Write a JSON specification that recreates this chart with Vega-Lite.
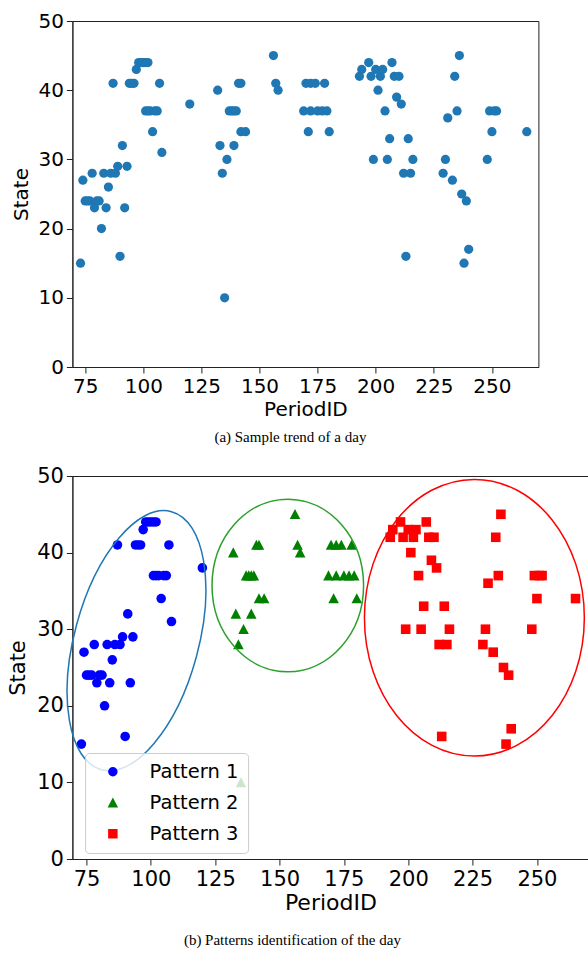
{
  "$schema": "https://vega.github.io/schema/vega-lite/v6.json",
  "autosize": {"type": "none"},
  "padding": {"left": 72.4, "top": 21, "right": 515.6, "bottom": 941},
  "background": "white",
  "datasets": {
    "points": [
      {"period": 73, "state": 15, "pattern": "Pattern 1"},
      {"period": 74, "state": 27, "pattern": "Pattern 1"},
      {"period": 75, "state": 24, "pattern": "Pattern 1"},
      {"period": 76, "state": 24, "pattern": "Pattern 1"},
      {"period": 77, "state": 24, "pattern": "Pattern 1"},
      {"period": 78, "state": 28, "pattern": "Pattern 1"},
      {"period": 79, "state": 23, "pattern": "Pattern 1"},
      {"period": 80, "state": 24, "pattern": "Pattern 1"},
      {"period": 81, "state": 24, "pattern": "Pattern 1"},
      {"period": 82, "state": 20, "pattern": "Pattern 1"},
      {"period": 83, "state": 28, "pattern": "Pattern 1"},
      {"period": 84, "state": 23, "pattern": "Pattern 1"},
      {"period": 85, "state": 26, "pattern": "Pattern 1"},
      {"period": 86, "state": 28, "pattern": "Pattern 1"},
      {"period": 87, "state": 41, "pattern": "Pattern 1"},
      {"period": 88, "state": 28, "pattern": "Pattern 1"},
      {"period": 89, "state": 29, "pattern": "Pattern 1"},
      {"period": 90, "state": 16, "pattern": "Pattern 1"},
      {"period": 91, "state": 32, "pattern": "Pattern 1"},
      {"period": 92, "state": 23, "pattern": "Pattern 1"},
      {"period": 93, "state": 29, "pattern": "Pattern 1"},
      {"period": 94, "state": 41, "pattern": "Pattern 1"},
      {"period": 95, "state": 41, "pattern": "Pattern 1"},
      {"period": 96, "state": 41, "pattern": "Pattern 1"},
      {"period": 97, "state": 43, "pattern": "Pattern 1"},
      {"period": 98, "state": 44, "pattern": "Pattern 1"},
      {"period": 99, "state": 44, "pattern": "Pattern 1"},
      {"period": 100, "state": 44, "pattern": "Pattern 1"},
      {"period": 101, "state": 44, "pattern": "Pattern 1"},
      {"period": 102, "state": 44, "pattern": "Pattern 1"},
      {"period": 101, "state": 37, "pattern": "Pattern 1"},
      {"period": 102, "state": 37, "pattern": "Pattern 1"},
      {"period": 103, "state": 37, "pattern": "Pattern 1"},
      {"period": 105, "state": 37, "pattern": "Pattern 1"},
      {"period": 106, "state": 37, "pattern": "Pattern 1"},
      {"period": 104, "state": 34, "pattern": "Pattern 1"},
      {"period": 107, "state": 41, "pattern": "Pattern 1"},
      {"period": 108, "state": 31, "pattern": "Pattern 1"},
      {"period": 120, "state": 38, "pattern": "Pattern 1"},
      {"period": 132, "state": 40, "pattern": "Pattern 2"},
      {"period": 133, "state": 32, "pattern": "Pattern 2"},
      {"period": 134, "state": 28, "pattern": "Pattern 2"},
      {"period": 135, "state": 10, "pattern": "Pattern 2"},
      {"period": 136, "state": 30, "pattern": "Pattern 2"},
      {"period": 137, "state": 37, "pattern": "Pattern 2"},
      {"period": 138, "state": 37, "pattern": "Pattern 2"},
      {"period": 139, "state": 37, "pattern": "Pattern 2"},
      {"period": 140, "state": 37, "pattern": "Pattern 2"},
      {"period": 139, "state": 32, "pattern": "Pattern 2"},
      {"period": 141, "state": 41, "pattern": "Pattern 2"},
      {"period": 142, "state": 41, "pattern": "Pattern 2"},
      {"period": 142, "state": 34, "pattern": "Pattern 2"},
      {"period": 144, "state": 34, "pattern": "Pattern 2"},
      {"period": 156, "state": 45, "pattern": "Pattern 2"},
      {"period": 157, "state": 41, "pattern": "Pattern 2"},
      {"period": 158, "state": 40, "pattern": "Pattern 2"},
      {"period": 170, "state": 41, "pattern": "Pattern 2"},
      {"period": 172, "state": 41, "pattern": "Pattern 2"},
      {"period": 174, "state": 41, "pattern": "Pattern 2"},
      {"period": 178, "state": 41, "pattern": "Pattern 2"},
      {"period": 169, "state": 37, "pattern": "Pattern 2"},
      {"period": 172, "state": 37, "pattern": "Pattern 2"},
      {"period": 175, "state": 37, "pattern": "Pattern 2"},
      {"period": 177, "state": 37, "pattern": "Pattern 2"},
      {"period": 179, "state": 37, "pattern": "Pattern 2"},
      {"period": 171, "state": 34, "pattern": "Pattern 2"},
      {"period": 180, "state": 34, "pattern": "Pattern 2"},
      {"period": 193, "state": 42, "pattern": "Pattern 3"},
      {"period": 194, "state": 43, "pattern": "Pattern 3"},
      {"period": 197, "state": 44, "pattern": "Pattern 3"},
      {"period": 198, "state": 42, "pattern": "Pattern 3"},
      {"period": 200, "state": 43, "pattern": "Pattern 3"},
      {"period": 202, "state": 42, "pattern": "Pattern 3"},
      {"period": 203, "state": 43, "pattern": "Pattern 3"},
      {"period": 201, "state": 40, "pattern": "Pattern 3"},
      {"period": 199, "state": 30, "pattern": "Pattern 3"},
      {"period": 204, "state": 37, "pattern": "Pattern 3"},
      {"period": 205, "state": 30, "pattern": "Pattern 3"},
      {"period": 206, "state": 33, "pattern": "Pattern 3"},
      {"period": 207, "state": 44, "pattern": "Pattern 3"},
      {"period": 208, "state": 42, "pattern": "Pattern 3"},
      {"period": 210, "state": 42, "pattern": "Pattern 3"},
      {"period": 209, "state": 39, "pattern": "Pattern 3"},
      {"period": 211, "state": 38, "pattern": "Pattern 3"},
      {"period": 212, "state": 28, "pattern": "Pattern 3"},
      {"period": 215, "state": 28, "pattern": "Pattern 3"},
      {"period": 213, "state": 16, "pattern": "Pattern 3"},
      {"period": 214, "state": 33, "pattern": "Pattern 3"},
      {"period": 216, "state": 30, "pattern": "Pattern 3"},
      {"period": 229, "state": 28, "pattern": "Pattern 3"},
      {"period": 230, "state": 30, "pattern": "Pattern 3"},
      {"period": 231, "state": 36, "pattern": "Pattern 3"},
      {"period": 233, "state": 27, "pattern": "Pattern 3"},
      {"period": 234, "state": 42, "pattern": "Pattern 3"},
      {"period": 235, "state": 37, "pattern": "Pattern 3"},
      {"period": 236, "state": 45, "pattern": "Pattern 3"},
      {"period": 237, "state": 25, "pattern": "Pattern 3"},
      {"period": 239, "state": 24, "pattern": "Pattern 3"},
      {"period": 238, "state": 15, "pattern": "Pattern 3"},
      {"period": 240, "state": 17, "pattern": "Pattern 3"},
      {"period": 248, "state": 30, "pattern": "Pattern 3"},
      {"period": 249, "state": 37, "pattern": "Pattern 3"},
      {"period": 251, "state": 37, "pattern": "Pattern 3"},
      {"period": 252, "state": 37, "pattern": "Pattern 3"},
      {"period": 250, "state": 34, "pattern": "Pattern 3"},
      {"period": 265, "state": 34, "pattern": "Pattern 3"}
    ],
    "ellipses": [
      {"period": 94.4, "state": 28.5, "pattern": "Pattern 1"},
      {"period": 153.2, "state": 35.7, "pattern": "Pattern 2"},
      {"period": 225.7, "state": 31.5, "pattern": "Pattern 3"}
    ]
  },
  "resolve": {"scale": {"color": "independent", "shape": "independent"}, "legend": {"color": "independent", "shape": "independent"}},
  "vconcat": [
    {
      "width": 466,
      "height": 346,
      "title": {"text": "(a) Sample trend of a day", "orient": "bottom", "anchor": "middle", "offset": 18, "baseline": "middle", "dx": -15},
      "data": {"name": "points"},
      "mark": {"type": "point", "filled": true, "opacity": 1, "size": 85, "color": "#1f77b4", "strokeWidth": 0},
      "encoding": {
        "x": {"field": "period", "type": "quantitative", "scale": {"domain": [69.5, 270], "nice": false, "zero": false},
              "axis": {"values": [75, 100, 125, 150, 175, 200, 225, 250], "title": "PeriodID", "labelFontSize": 20, "titleFontSize": 20, "titlePadding": 3, "labelFlush": false}},
        "y": {"field": "state", "type": "quantitative", "scale": {"domain": [0, 50], "nice": false},
              "axis": {"values": [0, 10, 20, 30, 40, 50], "title": "State", "labelFontSize": 20, "titleFontSize": 20, "titlePadding": 6}}
      }
    },
    {
      "width": 516,
      "height": 383,
      "title": {"text": "(b) Patterns identification of the day", "orient": "bottom", "anchor": "middle", "offset": 27, "baseline": "middle", "dx": -38},
      "encoding": {
        "x": {"field": "period", "type": "quantitative", "scale": {"domain": [69.5, 270], "nice": false, "zero": false},
              "axis": {"values": [75, 100, 125, 150, 175, 200, 225, 250], "title": "PeriodID", "labelFontSize": 21, "titleFontSize": 22, "titlePadding": 3, "labelFlush": false}},
        "y": {"field": "state", "type": "quantitative", "scale": {"domain": [0, 50], "nice": false},
              "axis": {"values": [0, 10, 20, 30, 40, 50], "title": "State", "labelFontSize": 21, "titleFontSize": 21, "titlePadding": 8}}
      },
      "layer": [
        {
          "data": {"name": "points"},
          "mark": {"type": "point", "filled": true, "opacity": 1, "size": 92, "strokeWidth": 0},
          "encoding": {
            "color": {"field": "pattern", "type": "nominal",
                      "scale": {"domain": ["Pattern 1", "Pattern 2", "Pattern 3"], "range": ["#0000ff", "#008000", "#ff0000"]},
                      "legend": {"orient": "none", "legendX": 12.7, "legendY": 277, "title": null, "fillColor": "rgba(255,255,255,0.8)", "strokeColor": "#cccccc", "cornerRadius": 4, "padding": 9, "rowPadding": 10, "labelFontSize": 19.5, "labelFont": "DejaVu Sans", "labelColor": "#000000", "symbolSize": 90, "symbolOffset": 9, "labelOffset": 27, "symbolStrokeWidth": 0, "symbolOpacity": 1}},
            "shape": {"field": "pattern", "type": "nominal",
                      "scale": {"domain": ["Pattern 1", "Pattern 2", "Pattern 3"], "range": ["circle", "M0,-1.1L1.1,1L-1.1,1Z", "square"]}}
          }
        },
        {
          "data": {"name": "ellipses"},
          "transform": [{"filter": "datum.pattern === 'Pattern 1'"}],
          "mark": {"type": "point", "shape": "M0,-1A0.4637,1,0,1,1,0,1A0.4637,1,0,1,1,0,-1Z", "size": 71503, "angle": 15.2, "filled": false, "stroke": "#1f77b4", "strokeWidth": 1.5, "opacity": 1},
          "encoding": {}
        },
        {
          "data": {"name": "ellipses"},
          "transform": [{"filter": "datum.pattern === 'Pattern 2'"}],
          "mark": {"type": "point", "shape": "M0,-1A0.878,1,0,1,1,0,1A0.878,1,0,1,1,0,-1Z", "size": 29791, "filled": false, "stroke": "#2ca02c", "strokeWidth": 1.5, "opacity": 1},
          "encoding": {}
        },
        {
          "data": {"name": "ellipses"},
          "transform": [{"filter": "datum.pattern === 'Pattern 3'"}],
          "mark": {"type": "point", "shape": "M0,-1A0.795,1,0,1,1,0,1A0.795,1,0,1,1,0,-1Z", "size": 76508, "filled": false, "stroke": "#ff0000", "strokeWidth": 1.5, "opacity": 1},
          "encoding": {}
        }
      ]
    }
  ],
  "spacing": 109,
  "bounds": "flush",
  "config": {
    "view": {"stroke": "#222222", "strokeWidth": 1},
    "axis": {"grid": false, "domainColor": "#222222", "tickColor": "#222222", "labelColor": "#000000", "titleColor": "#000000", "labelFont": "DejaVu Sans", "titleFont": "DejaVu Sans", "titleFontWeight": "normal", "tickSize": 6, "labelPadding": 3},
    "title": {"font": "Liberation Serif", "fontSize": 15, "fontWeight": "normal", "color": "#000000"}
  }
}
